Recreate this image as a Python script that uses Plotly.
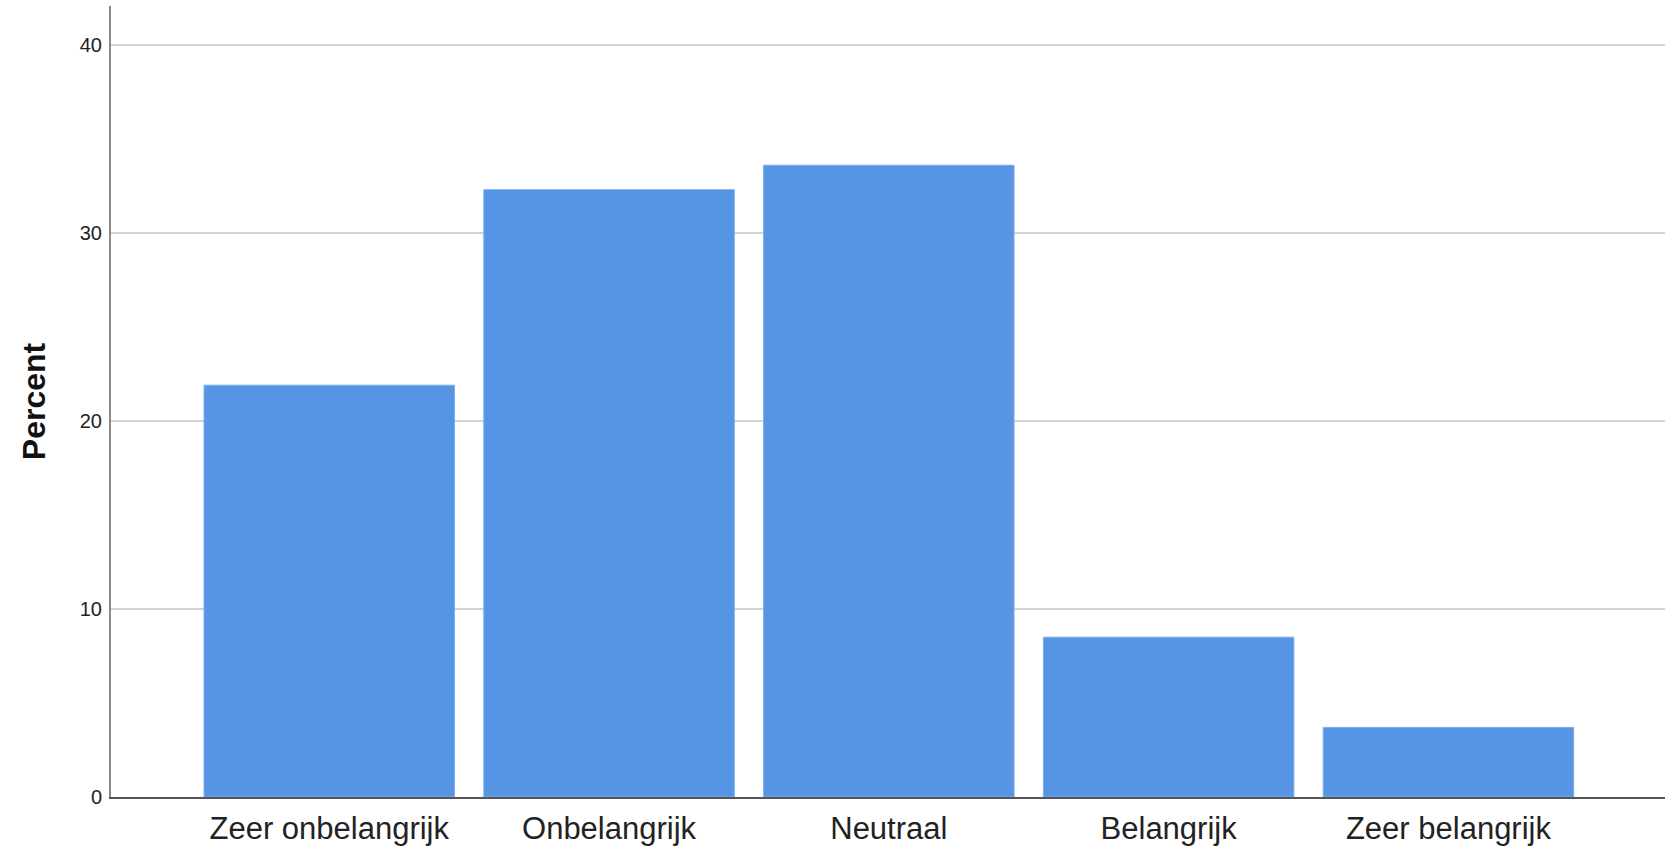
import plotly.graph_objects as go

categories = ["Zeer onbelangrijk", "Onbelangrijk", "Neutraal", "Belangrijk", "Zeer belangrijk"]
percent = [21.9, 32.3, 33.6, 8.5, 3.7]
y_ticks = [0, 10, 20, 30, 40]
y_title = "Percent"

fig = go.Figure()
fig.add_trace(go.Bar(
    x=categories,
    y=percent,
    marker=dict(color="#5595e3", line=dict(color="#7aabec", width=1)),
    width=0.895,
    hoverinfo="x+y",
))

fig.update_layout(
    width=1678,
    height=849,
    margin=dict(l=111, r=13, t=6, b=52),
    paper_bgcolor="white",
    plot_bgcolor="white",
    showlegend=False,
    font=dict(family="Liberation Sans, Arial, sans-serif", color="#222222"),
)

fig.update_xaxes(
    type="category",
    range=[-0.78, 4.774],
    automargin=False,
    showgrid=False,
    showline=True,
    linecolor="#555555",
    linewidth=2,
    ticks="",
    tickfont=dict(size=31, color="#222222"),
    ticklabelstandoff=3,
    zeroline=False,
)

fig.update_yaxes(
    range=[0, 42.07],
    automargin=False,
    tickvals=y_ticks,
    ticktext=[str(v) for v in y_ticks],
    showgrid=True,
    gridcolor="#d3d3d3",
    gridwidth=2,
    showline=True,
    linecolor="#8a8a8a",
    linewidth=2,
    ticks="",
    ticklabelstandoff=3,
    tickfont=dict(size=20, color="#222222"),
    zeroline=False,
    title=dict(text="<b>" + y_title + "</b>", font=dict(size=32, color="#111111"), standoff=25),
)

fig.write_html(
    "out.html",
    config={"displayModeBar": False},
    post_script="document.body.style.margin='0';document.body.style.overflow='hidden';",
)
